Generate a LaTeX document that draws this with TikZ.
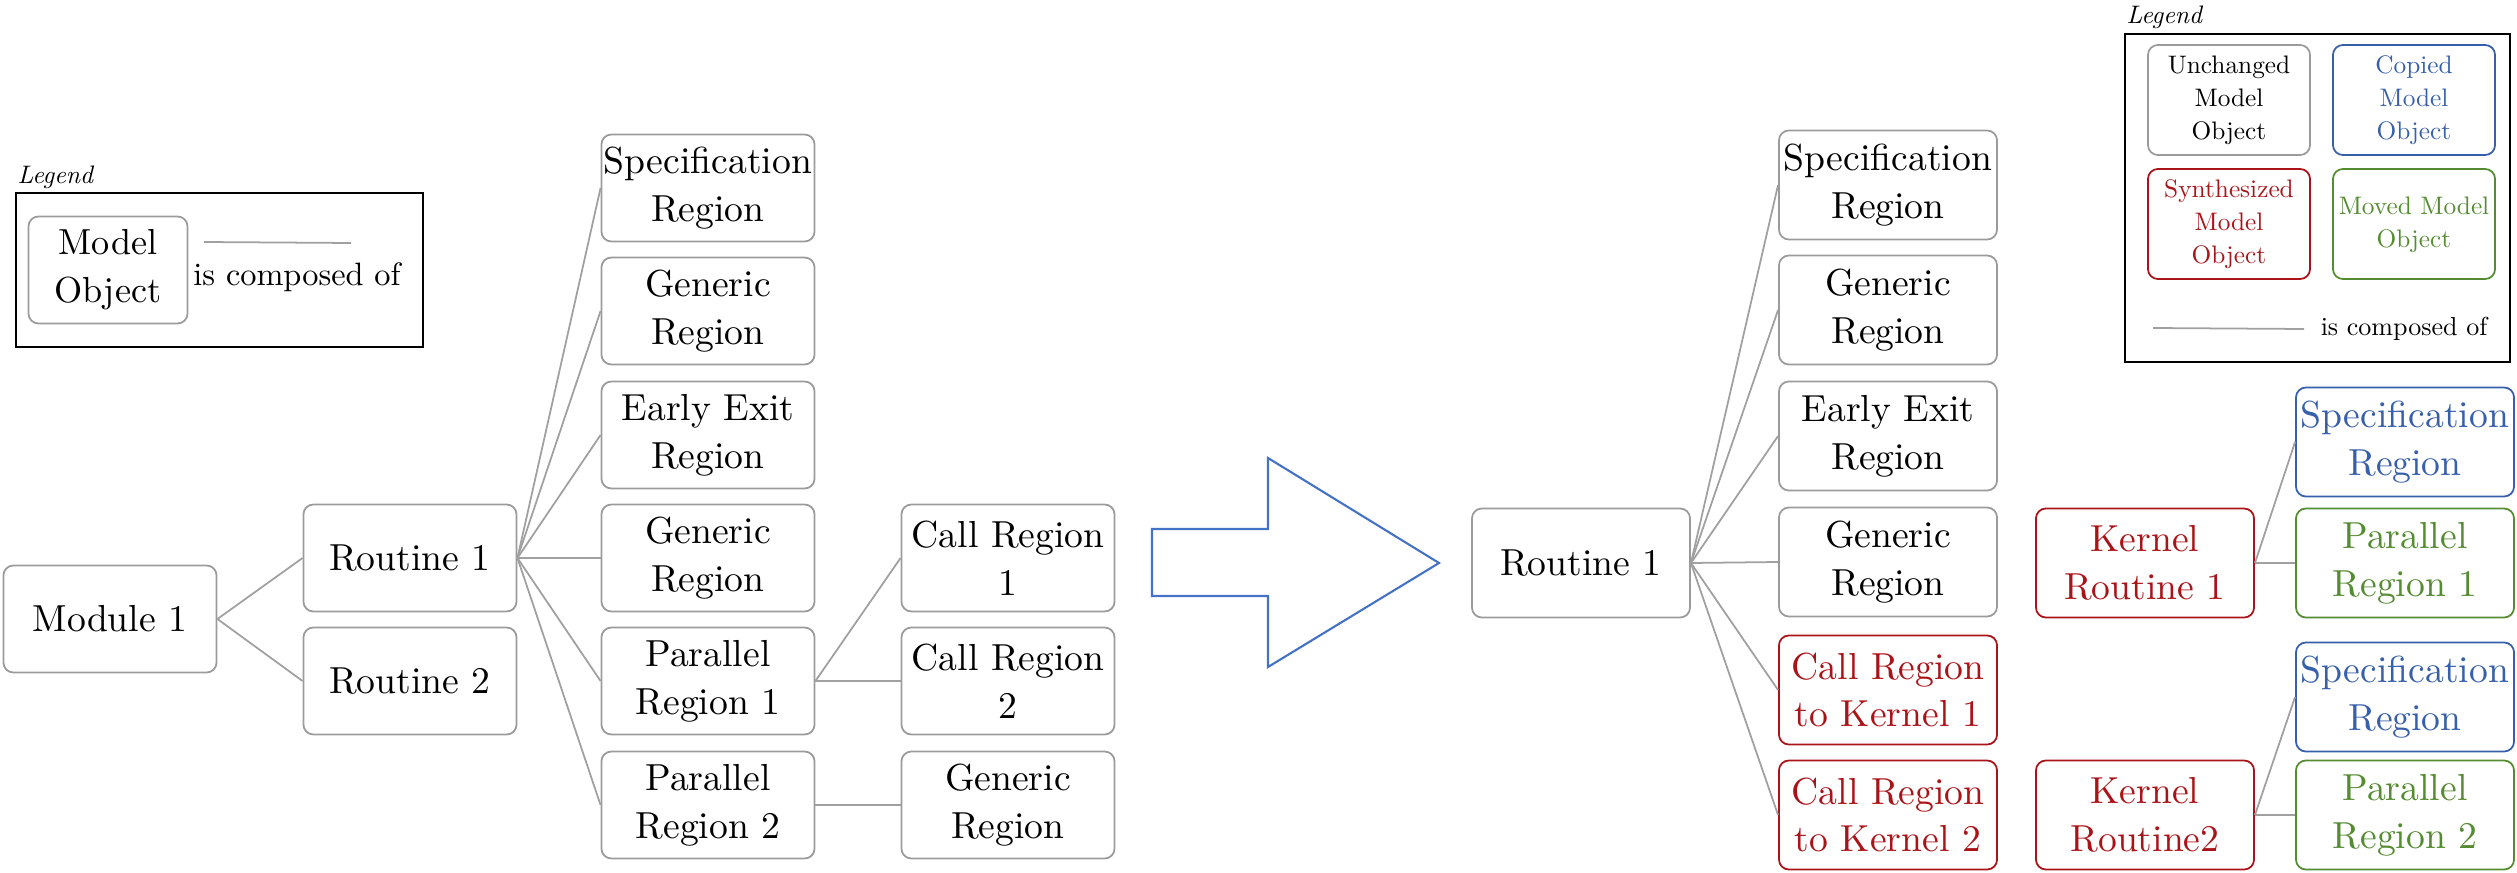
\documentclass[tikz,border=0pt]{standalone}
\usepackage{tikz}
\usepackage{graphicx}
\definecolor{boxgray}{RGB}{155,155,155}
\definecolor{edgegray}{RGB}{160,160,160}
\definecolor{cblue}{RGB}{55,95,170}
\definecolor{cred}{RGB}{170,20,25}
\definecolor{cgreen}{RGB}{85,140,50}
\definecolor{arrowblue}{RGB}{68,114,196}
\newcommand\smalltxt[2]{\scalebox{#1}{\fontsize{10}{13}\selectfont\begin{tabular}{@{}c@{}}#2\end{tabular}}}
\tikzset{
  mbox/.style={draw=boxgray, line width=0.5pt, rounded corners=0.1cm, align=center,
    minimum width=2.13cm, minimum height=1.07cm, inner sep=0pt,
    font=\fontsize{10.7}{13.6}\selectfont},
  rbox/.style={mbox, minimum width=2.18cm, minimum height=1.09cm},
  lbox/.style={draw=boxgray, line width=0.5pt, rounded corners=0.1cm, align=center,
    minimum width=1.62cm, minimum height=1.10cm, inner sep=0pt},
  copied/.style={draw=cblue, text=cblue},
  synth/.style={draw=cred, text=cred},
  moved/.style={draw=cgreen, text=cgreen},
  edge/.style={draw=edgegray, line width=0.5pt},
  legframe/.style={draw=black, line width=0.7pt},
  legtitle/.style={anchor=base west, inner sep=0pt},
}
\begin{document}
\begin{tikzpicture}[x=0.01cm, y=-0.01cm]
\useasboundingbox (0,0) rectangle (2517,873);

% ---------- left legend ----------
\draw[legframe] (16,193) rectangle (423,347);
\node[legtitle] (lt1) at (17,184) {\scalebox{0.72}{\itshape Legend}};
\node[mbox, minimum width=1.59cm, font=\fontsize{10.3}{13.6}\selectfont] (lmo) at (108,270) {Model\\Object};
\coordinate (ll1) at (204,242);
\coordinate (ll2) at (351,243);
\draw[edge] (ll1) -- (ll2);
\node[inner sep=0pt] (lcomp) at (297,277) {\scalebox{0.92}{is composed of}};

% ---------- left tree ----------
\node[mbox] (m1) at (110,619) {Module 1};
\node[mbox] (r1) at (410,558) {Routine 1};
\node[mbox] (r2) at (410,681) {Routine 2};

\node[mbox] (a1) at (708,188) {Specification\\Region};
\node[mbox] (a2) at (708,311) {Generic\\Region};
\node[mbox] (a3) at (708,435) {Early Exit\\Region};
\node[mbox] (a4) at (708,558) {Generic\\Region};
\node[mbox] (a5) at (708,681) {Parallel\\Region 1};
\node[mbox] (a6) at (708,805) {Parallel\\Region 2};

\node[mbox] (b1) at (1008,558) {Call Region\\1};
\node[mbox] (b2) at (1008,681) {Call Region\\2};
\node[mbox] (b3) at (1008,805) {Generic\\Region};

\foreach \t in {r1,r2} \draw[edge] (m1.east) -- (\t.west);
\foreach \t in {a1,a2,a3,a4,a5,a6} \draw[edge] (r1.east) -- (\t.west);
\draw[edge] (a5.east) -- (b1.west);
\draw[edge] (a5.east) -- (b2.west);
\draw[edge] (a6.east) -- (b3.west);

% ---------- big arrow ----------
\draw[draw=arrowblue, line width=0.6pt, line join=miter]
  (1152,529) -- (1268,529) -- (1268,458) -- (1439,563) -- (1268,667) -- (1268,596) -- (1152,596) -- cycle;

% ---------- right tree ----------
\node[rbox] (rr1) at (1581,563) {Routine 1};
\node[rbox] (c1) at (1888,185) {Specification\\Region};
\node[rbox] (c2) at (1888,310) {Generic\\Region};
\node[rbox] (c3) at (1888,436) {Early Exit\\Region};
\node[rbox] (c4) at (1888,562) {Generic\\Region};
\node[rbox, synth] (c5) at (1888,690) {Call Region\\to Kernel 1};
\node[rbox, synth] (c6) at (1888,815) {Call Region\\to Kernel 2};
\foreach \t in {c1,c2,c3,c4,c5,c6} \draw[edge] (rr1.east) -- (\t.west);

\node[rbox, synth] (k1) at (2145,563) {Kernel\\Routine 1};
\node[rbox, synth] (k2) at (2145,815) {Kernel\\Routine2};
\node[rbox, copied] (s1) at (2405,442) {Specification\\Region};
\node[rbox, moved] (p1) at (2405,563) {Parallel\\Region 1};
\node[rbox, copied] (s2) at (2405,697) {Specification\\Region};
\node[rbox, moved] (p2) at (2405,815) {Parallel\\Region 2};
\draw[edge] (k1.east) -- (s1.west);
\draw[edge] (k1.east) -- (p1.west);
\draw[edge] (k2.east) -- (s2.west);
\draw[edge] (k2.east) -- (p2.west);

% ---------- right legend ----------
\draw[legframe] (2125,34) rectangle (2510,362);
\node[legtitle] (lt2) at (2126,24) {\scalebox{0.72}{\itshape Legend}};
\node[lbox] (lu) at (2229,100) {\smalltxt{0.72}{Unchanged\\Model\\Object}};
\node[lbox, copied] (lc) at (2414,100) {\smalltxt{0.72}{Copied\\Model\\Object}};
\node[lbox, synth] (ls) at (2229,224) {\smalltxt{0.72}{Synthesized\\Model\\Object}};
\node[lbox, moved] (lm) at (2414,224) {\smalltxt{0.72}{Moved Model\\Object}};
\coordinate (rl1) at (2153,328);
\coordinate (rl2) at (2304,329);
\draw[edge] (rl1) -- (rl2);
\node[inner sep=0pt] (rcomp) at (2404,329) {\scalebox{0.74}{is composed of}};
\end{tikzpicture}
\end{document}
